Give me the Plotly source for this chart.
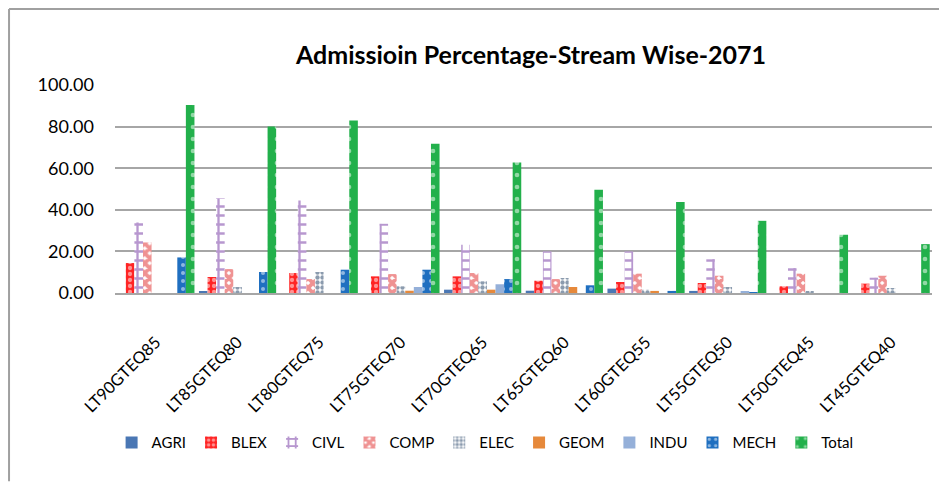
import plotly.graph_objects as go

categories = ["LT90GTEQ85", "LT85GTEQ80", "LT80GTEQ75", "LT75GTEQ70", "LT70GTEQ65",
              "LT65GTEQ60", "LT60GTEQ55", "LT55GTEQ50", "LT50GTEQ45", "LT45GTEQ40"]
AGRI = [0, 0.6, 0, 0, 1.6, 1.1, 2.1, 1.0, 0, 0]
BLEX = [14.4, 7.7, 9.6, 8.0, 8.0, 5.9, 5.3, 4.8, 3.2, 4.5]
CIVL = [33.9, 45.6, 44.5, 33.3, 23.2, 20.0, 20.0, 16.3, 12.0, 7.4]
COMP = [24.3, 11.5, 6.7, 9.1, 9.6, 6.7, 9.3, 8.3, 9.3, 8.3]
ELEC = [0, 2.9, 10.1, 3.2, 5.6, 7.2, 1.6, 2.9, 0.8, 2.4]
GEOM = [0, 0, 0, 1.1, 1.6, 2.9, 1.0, 0, 0, 0]
INDU = [0, 0, 0, 2.9, 4.2, 0, 0, 0.5, 0, 0]
MECH = [17.1, 10.1, 11.2, 11.2, 6.7, 3.7, 1.0, 0.3, 0, 0]
Total = [90.4, 80.0, 82.9, 71.7, 62.7, 49.6, 43.7, 34.7, 28.0, 23.5]

series = [
    ("AGRI", AGRI, "#4a77b4", "", "#4a77b4", 8, 0.3),
    ("BLEX", BLEX, "#ff2424", ".", "#ffffff", 6, 0.4),
    ("CIVL", CIVL, "#ffffff", "+", "#7030a0", 9, 0.45),
    ("COMP", COMP, "#ffffff", "x", "#e02626", 7, 0.8),
    ("ELEC", ELEC, "#ffffff", ".", "#17375e", 5, 0.6),
    ("GEOM", GEOM, "#e6893b", "", "#e6893b", 8, 0.3),
    ("INDU", INDU, "#95b0d9", "", "#95b0d9", 8, 0.3),
    ("MECH", MECH, "#1f6fc0", ".", "#ffffff", 8, 0.2),
    ("Total", Total, "#22b04b", ".", "#ffffff", 12, 0.12),
]

fig = go.Figure()
for name, vals, color, shape, fg, size, sol in series:
    fig.add_trace(go.Bar(
        name=name, x=categories, y=vals,
        marker=dict(color=color, line=dict(width=0),
                    pattern=dict(shape=shape, fgcolor=fg, bgcolor=color,
                                 size=size, solidity=sol, fillmode="overlay")),
    ))

fig.update_layout(
    width=939, height=474,
    paper_bgcolor="white", plot_bgcolor="white",
    barmode="group", bargap=0.055, bargroupgap=0,
    margin=dict(l=107, r=15, t=77, b=189, autoexpand=False),
    font=dict(family="Lato, Open Sans, sans-serif", color="#000000"),
    title=dict(text="<b>Admissioin Percentage-Stream Wise-2071</b>",
               x=0.557, xanchor="center", y=0.9, yanchor="middle",
               font=dict(size=25, family="Lato, Open Sans, sans-serif", color="#000000")),
    legend=dict(orientation="h", x=0.453, xanchor="center", y=-0.72, yanchor="middle",
                font=dict(size=15), itemwidth=30, bgcolor="rgba(0,0,0,0)"),
    shapes=[
        dict(type="line", xref="paper", yref="paper", x0=-0.1297, x1=-0.1297, y0=-0.905, y1=1.365,
             line=dict(color="#a0a0a0", width=2)),
        dict(type="line", xref="paper", yref="paper", x0=-0.1297, x1=1.03, y0=1.365, y1=1.365,
             line=dict(color="#a0a0a0", width=2)),
    ],
)
fig.update_yaxes(range=[0, 100], dtick=20, tickformat=".2f", automargin=False,
                 showgrid=True, gridcolor="#a6a6a6", gridwidth=2,
                 zeroline=False, showline=False,
                 ticks="", ticklabelstandoff=20,
                 tickfont=dict(size=18))
fig.update_xaxes(showline=True, linecolor="#a6a6a6", linewidth=2, automargin=False,
                 tickangle=-45, tickfont=dict(size=16.5), ticks="",
                 ticklabelstandoff=31)

fig.write_html("out.html")
